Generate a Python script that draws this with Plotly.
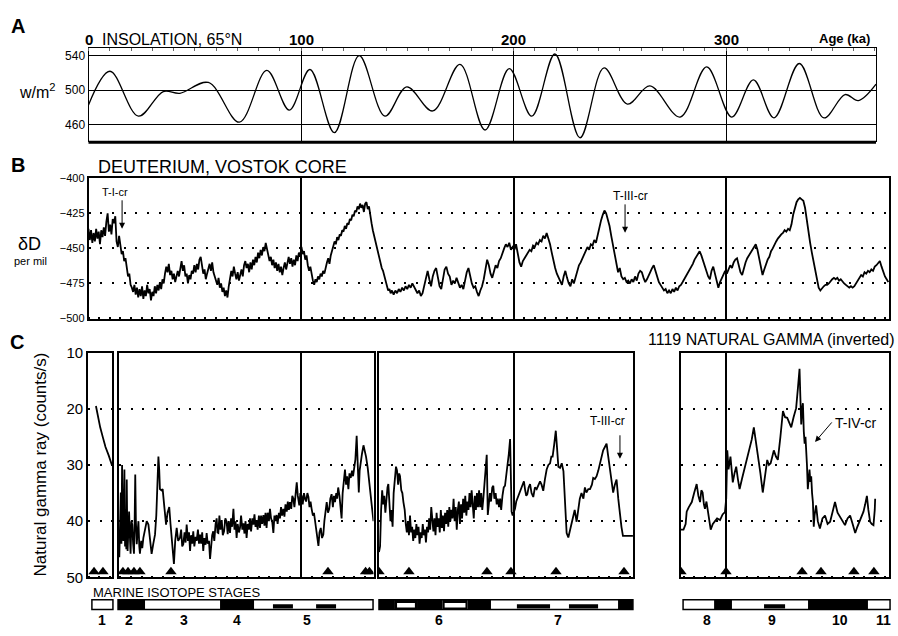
import plotly.graph_objects as go

W, H = 898, 636

# ---------------- DATA ----------------
# Panel A: insolation 65N (age ka, W/m2) - extrema
ins_age = [0, 10.1, 23.5, 35.2, 43, 56.4, 71, 83.9, 94.5, 104.2, 115.7, 127.4, 139.5, 149.8, 162,
           174.8, 186.6, 198, 208.6, 219.5, 231.3, 242.6, 253.6, 264.2, 278.4, 290.9, 302.7, 312.9,
           322.6, 334.5, 346.1, 356, 362.3, 370.6]
ins_val = [483, 522, 470, 498.5, 496.5, 509, 463, 523, 477, 524, 451, 540, 470, 504, 476,
           530, 454, 525, 470, 542, 445, 526, 484, 505, 469, 527, 469, 512,
           468, 531, 468, 495, 488, 507]

# Panel B: Vostok deuterium (age ka, per mil)
dd_pts = [
    (0, -436), (0.6, -444), (1.2, -437), (1.8, -446), (2.4, -439), (3.0, -445), (3.6, -436), (4.2, -443),
    (4.8, -438), (5.4, -447), (6.0, -437), (6.6, -442), (7.2, -435), (7.8, -441), (8.4, -431), (9.0, -425),
    (9.6, -438), (10.2, -433), (10.8, -440), (11.4, -429), (12.0, -432),
    (12.6, -427), (13.2, -445), (13.8, -449), (14.4, -441), (15.0, -450), (15.6, -454), (16.2, -452),
    (16.8, -459), (17.4, -457), (18.0, -465), (18.6, -470), (19.2, -468), (19.8, -476), (20.4, -478),
    (21.0, -481), (21.6, -476), (22.2, -483), (22.8, -478), (23.4, -485), (24.0, -479), (24.6, -484),
    (25.2, -477), (25.8, -486), (26.4, -480), (27.0, -484), (27.6, -476), (28.2, -482), (28.8, -479),
    (29.4, -487), (30.0, -481), (30.6, -484), (31.2, -477), (31.8, -482), (32.4, -476), (33.0, -480),
    (33.6, -474), (34.2, -479), (34.8, -472),
    (35.4, -475), (36.0, -468), (36.6, -463), (37.2, -467), (37.8, -461), (38.4, -469), (39.0, -466),
    (39.6, -472), (40.2, -468), (40.8, -474), (41.4, -469), (42.0, -466), (42.6, -470), (43.2, -463),
    (43.8, -459), (44.4, -466), (45.0, -462), (45.6, -470), (46.2, -468), (46.8, -475), (47.4, -469),
    (48.0, -472), (48.6, -466), (49.2, -468), (49.8, -462), (50.4, -467), (51.0, -461), (51.6, -465),
    (52.2, -458), (52.8, -456), (53.4, -463), (54.0, -468), (54.6, -465), (55.2, -472), (55.8, -468),
    (56.4, -465), (57.0, -461), (57.6, -466), (58.2, -460), (58.8, -467), (59.4, -470), (60.0, -473),
    (60.6, -476), (61.2, -471), (61.8, -478), (62.4, -475), (63.0, -481), (63.6, -478), (64.2, -484),
    (64.8, -480), (65.4, -485), (66.0, -477), (66.6, -472), (67.2, -466), (67.8, -470), (68.4, -463),
    (69.0, -468), (69.6, -472), (70.2, -467), (70.8, -473), (71.4, -469), (72.0, -465), (72.6, -470),
    (73.2, -462), (73.8, -459), (74.4, -464),
    (75.0, -461), (75.6, -467), (76.2, -460), (76.8, -465), (77.4, -458), (78.0, -462), (78.6, -456),
    (79.2, -460), (79.8, -453), (80.4, -457), (81.0, -451), (81.6, -455), (82.2, -449), (82.8, -452),
    (83.4, -446), (84.0, -450), (84.6, -455), (85.2, -459), (85.8, -456), (86.4, -462), (87.0, -458),
    (87.6, -464), (88.2, -460), (88.8, -466), (89.4, -461), (90.0, -467), (90.6, -463), (91.2, -469),
    (91.8, -464), (92.4, -460), (93.0, -465), (93.6, -459), (94.2, -456), (94.8, -461), (95.4, -457),
    (96.0, -463), (96.6, -458), (97.2, -462), (97.8, -455), (98.4, -459), (99.0, -453), (99.6, -456),
    (100.2, -449),
    (100.8, -454), (101.4, -452), (102.0, -458), (102.6, -455), (103.2, -462), (103.8, -466), (104.4, -463),
    (105.0, -469), (105.6, -473), (106.2, -476), (106.8, -472), (107.4, -474), (108.0, -470), (108.6, -472),
    (109.2, -468), (109.8, -470), (110.4, -466), (111.0, -468), (111.6, -463), (112.2, -460),
    (112.8, -457), (113.4, -461), (114.0, -455), (114.6, -451), (115.2, -448), (115.8, -445), (116.4, -447),
    (117.0, -442), (117.6, -444), (118.2, -440), (118.8, -441), (119.4, -437), (120.0, -438), (120.6, -434),
    (121.2, -436), (121.8, -432), (122.4, -433), (123.0, -429), (123.6, -430), (124.2, -426), (124.8, -427),
    (125.4, -423), (126.0, -424), (126.6, -420), (127.2, -422), (127.8, -418), (128.4, -421), (129.0, -419),
    (129.6, -424), (130.2, -418), (130.8, -417), (131.4, -422), (132.0, -420), (132.6, -428),
    (133.2, -432), (133.8, -437), (134.4, -441), (135.0, -445), (135.6, -448), (136.2, -454), (136.8, -457),
    (137.4, -461), (138.0, -464), (138.6, -466), (139.2, -470), (139.8, -473), (140.4, -477), (141.0, -480),
    (141.6, -479), (142.2, -482), (142.8, -480),
    (143.6, -483), (144.4, -480), (145.2, -482), (146.0, -479), (146.8, -481), (147.6, -478), (148.4, -480),
    (149.2, -477), (150.0, -479), (150.8, -476), (151.6, -478), (152.4, -475), (153.2, -477), (154.0, -479),
    (154.8, -482), (155.6, -480), (156.4, -484), (157.2, -482), (158.0, -477), (158.8, -470), (159.6, -466),
    (160.4, -472), (161.2, -477), (162.0, -470), (162.8, -466), (163.6, -464), (164.4, -471), (165.2, -477),
    (166.0, -479), (166.8, -470), (167.6, -465), (168.4, -463), (169.2, -468), (170.0, -470),
    (170.8, -476), (171.6, -473), (172.4, -475), (173.2, -471), (174.0, -474), (174.8, -478), (175.6, -476),
    (176.4, -479), (177.2, -473), (178.0, -467), (178.8, -464), (179.6, -470), (180.4, -475), (181.2, -478),
    (182.0, -477), (182.8, -481), (183.6, -484), (184.4, -480), (185.2, -477), (186.0, -472), (186.8, -466),
    (187.6, -458), (188.4, -462), (189.2, -468), (190.0, -471), (190.8, -466), (191.6, -462), (192.4, -464),
    (193.2, -459), (194.0, -457), (194.8, -453), (195.6, -450), (196.4, -447), (197.2, -449), (198.0, -446),
    (198.8, -451), (199.6, -449),
    (200.4, -451), (201.2, -447), (202.0, -453), (202.8, -460), (203.6, -463), (204.4, -459), (205.2, -457),
    (206.0, -455), (206.8, -453), (207.6, -451), (208.4, -452), (209.2, -448), (210.0, -449), (210.8, -446),
    (211.6, -447), (212.4, -444), (213.2, -445), (214.0, -441), (214.8, -443), (215.6, -439), (216.4, -443),
    (217.2, -447), (218.0, -453), (218.8, -459), (219.6, -464), (220.4, -468), (221.2, -471), (222.0, -474),
    (222.8, -476),
    (223.6, -470), (224.4, -466), (225.2, -471), (226.0, -475), (226.8, -477), (227.6, -472), (228.4, -475),
    (229.2, -470), (230.0, -467), (230.8, -462), (231.6, -460), (232.4, -457), (233.2, -455), (234.0, -452),
    (234.8, -449), (235.6, -451), (236.4, -447), (237.2, -448), (238.0, -444), (238.8, -446), (239.6, -440),
    (240.4, -436), (241.2, -430), (242.0, -426), (242.8, -423), (243.6, -425), (244.4, -429), (245.2, -434),
    (246.0, -441), (246.8, -448), (247.6, -456), (248.4, -462), (249.2, -467), (250.0, -464), (250.8, -470),
    (251.6, -472), (252.4, -471), (253.2, -474), (254.0, -473), (254.8, -475), (255.6, -472), (256.4, -474),
    (257.2, -470), (258.0, -473), (258.8, -468), (259.6, -466), (260.4, -467), (261.2, -471), (262.0, -474),
    (262.8, -472), (263.6, -469), (264.4, -466), (265.2, -464), (266.0, -462), (266.8, -466), (267.6, -470),
    (268.4, -474), (269.2, -476), (270.0, -478), (270.8, -480), (271.6, -479), (272.4, -482), (273.2, -480),
    (274.0, -482), (274.8, -479), (275.6, -481), (276.4, -478), (277.2, -480), (278.0, -477), (278.8, -476),
    (279.6, -474), (280.4, -472), (281.2, -470), (282.0, -468), (282.8, -466), (283.6, -463), (284.4, -461),
    (285.2, -458), (286.0, -456), (286.8, -454), (287.6, -452), (288.4, -455), (289.2, -459), (290.0, -462),
    (290.8, -467), (291.6, -470), (292.4, -472), (293.2, -466), (294.0, -463), (294.8, -468), (295.6, -474),
    (296.4, -478), (297.2, -474), (298.0, -471), (298.8, -469), (299.6, -466),
    (300.4, -468), (301.2, -465), (302.0, -462), (302.8, -464), (303.6, -460), (304.4, -458), (305.2, -457),
    (306.0, -462), (306.8, -467), (307.6, -469), (308.4, -464), (309.2, -460), (310.0, -457), (310.8, -455),
    (311.6, -454), (312.4, -452), (313.2, -450), (314.0, -447), (314.8, -451), (315.6, -458), (316.4, -463),
    (317.2, -469), (318.0, -465), (318.8, -461), (319.6, -458), (320.4, -456), (321.2, -452), (322.0, -450),
    (322.8, -447), (323.6, -445), (324.4, -443), (325.2, -441), (326.0, -440), (326.8, -439), (327.6, -437),
    (328.4, -438), (329.2, -436), (330.0, -437),
    (330.8, -433), (331.6, -426), (332.4, -421), (333.2, -417), (334.0, -415), (334.8, -414), (335.6, -415),
    (336.4, -416), (337.2, -421), (338.0, -430), (338.8, -438), (339.6, -446), (340.4, -453), (341.2, -460),
    (342.0, -466), (342.8, -472), (343.6, -478), (344.4, -480), (345.2, -478), (346.0, -477), (346.8, -476),
    (347.6, -476), (348.4, -475), (349.2, -473), (350.0, -472), (350.8, -471), (351.6, -472), (352.4, -471),
    (353.2, -473), (354.0, -472), (354.8, -474), (355.6, -475), (356.4, -476), (357.2, -477), (358.0, -478),
    (358.8, -477), (359.6, -478), (360.4, -477), (361.2, -475), (362.0, -472), (362.8, -470), (363.6, -469),
    (364.4, -470), (365.2, -467), (366.0, -468), (366.8, -466), (367.6, -467), (368.4, -465), (369.2, -466),
    (370.0, -463), (370.8, -462), (371.6, -460), (372.4, -459), (373.2, -463), (374.0, -467), (374.8, -470),
    (375.6, -472), (376.4, -474),
]

# Panel C: 1119 natural gamma (inverted), four depth segments (age-equivalent position, counts/s)
g1_pts = [(3.5, 19.5), (4.5, 21.5), (5.5, 23.3), (6.7, 25.0), (8.0, 26.8), (9.5, 28.3), (11.0, 30.0)]
g2_pts = [
    (14.5, 46.4), (14.9, 38.0), (15.2, 34.9), (15.5, 44.0), (15.8, 30.0), (16.1, 41.5), (16.4, 43.5),
    (16.7, 36.0), (16.9, 30.8), (17.2, 44.5), (17.5, 40.6), (17.8, 45.0), (18.0, 32.6), (18.2, 40.0),
    (18.4, 45.3), (18.8, 41.0), (19.1, 38.3), (19.5, 43.0), (19.8, 45.8), (20.2, 40.0), (20.6, 40.6),
    (21.0, 44.0), (21.4, 45.8), (21.7, 40.5), (22.0, 31.7), (22.3, 40.0), (22.7, 44.1), (23.1, 42.0),
    (23.5, 40.0), (23.9, 44.5), (24.2, 45.8), (24.8, 43.5), (25.3, 44.8), (25.8, 43.0),
    (26.6, 41.5), (27.4, 40.0), (28.2, 40.6), (29.0, 43.5), (29.7, 45.8), (30.5, 44.0), (31.3, 42.4),
    (31.9, 39.0), (32.4, 33.0), (32.9, 28.5), (33.3, 31.0), (33.6, 34.3), (34.3, 34.5), (34.9, 34.3),
    (35.7, 37.5), (36.5, 40.6), (37.2, 38.5), (38.0, 37.5), (38.6, 40.5), (39.1, 43.0), (39.7, 45.0),
    (40.2, 47.6), (40.8, 43.5), (41.5, 41.2),
    (42.2, 43.5), (43.0, 43.0), (43.6, 41.5), (44.1, 44.5), (44.6, 44.1), (45.2, 42.0), (45.7, 43.8),
    (46.2, 40.6), (46.8, 43.5), (47.3, 42.0), (47.8, 45.3), (48.3, 42.5), (48.8, 44.0), (49.3, 41.8),
    (49.8, 44.5), (50.4, 42.8), (50.9, 43.5), (51.5, 41.5), (52.0, 44.0), (52.5, 42.4), (53.0, 44.0),
    (53.5, 42.0), (54.0, 45.3), (54.5, 43.0), (55.1, 44.2), (55.6, 42.1), (56.1, 44.0), (56.7, 43.5),
    (57.2, 46.7), (57.7, 44.0), (58.2, 42.5), (58.7, 41.8), (59.2, 43.5), (59.8, 40.5), (60.3, 39.5),
    (60.7, 42.0), (61.1, 42.1), (61.6, 39.0), (62.1, 41.5), (62.7, 39.8), (63.2, 42.5), (63.8, 41.8),
    (64.4, 39.5), (65.0, 40.1), (65.5, 42.3), (66.0, 40.0), (66.6, 42.1), (67.1, 39.5), (67.6, 41.0),
    (68.2, 37.8), (68.7, 41.5), (69.2, 40.0), (69.7, 43.0), (70.2, 40.5), (70.8, 42.0), (71.3, 41.2),
    (71.8, 39.0), (72.4, 41.5), (72.9, 40.4), (73.4, 42.2), (73.9, 40.0), (74.4, 43.0), (74.9, 40.5),
    (75.5, 41.5), (76.0, 39.5), (76.5, 41.8), (77.1, 39.5), (77.6, 40.6), (78.1, 38.8), (78.6, 41.0),
    (79.1, 39.8), (79.6, 41.5), (80.2, 39.0), (80.7, 41.2), (81.2, 39.0), (81.7, 40.5), (82.3, 38.9),
    (82.8, 40.8), (83.3, 38.5), (83.8, 41.2), (84.3, 38.5), (84.9, 40.0), (85.4, 37.8), (85.9, 39.5),
    (86.5, 40.2), (87.0, 42.1), (87.5, 39.0), (88.0, 40.0), (88.5, 38.9), (89.0, 40.5), (89.6, 38.5),
    (90.1, 39.5), (90.6, 37.5), (91.1, 39.0), (91.7, 37.8), (92.2, 39.2), (92.7, 37.0), (93.3, 38.3),
    (93.8, 36.5), (94.3, 38.0), (94.8, 36.6), (95.4, 37.8), (95.9, 35.5), (96.4, 36.0), (96.9, 37.5),
    (97.5, 35.0), (98.0, 33.1), (98.5, 35.5), (99.2, 37.2), (99.7, 35.0),
    (100.3, 35.5), (100.8, 37.0), (101.4, 35.0), (101.9, 36.0), (102.4, 36.5), (103.0, 35.0), (103.5, 35.7),
    (104.0, 37.5), (104.5, 36.5), (105.0, 37.8), (105.6, 39.0), (106.1, 38.5), (106.6, 40.1), (107.1, 41.5),
    (107.7, 42.5), (108.2, 44.4), (108.7, 42.0), (109.3, 41.2), (109.9, 43.0), (110.5, 42.4), (111.0, 40.0),
    (111.5, 38.0), (112.1, 36.6), (112.7, 38.5), (113.3, 37.8), (113.8, 36.0), (114.4, 35.2), (115.0, 37.5),
    (115.5, 35.5), (116.0, 36.6), (116.6, 35.0), (117.0, 36.0), (117.5, 34.0), (118.1, 35.5), (118.6, 37.0),
    (119.1, 39.5), (119.6, 35.0), (120.1, 33.0), (120.7, 30.8), (121.2, 33.5), (121.7, 32.0), (122.3, 34.3),
    (122.8, 31.5), (123.4, 32.3), (124.0, 31.0), (124.5, 32.0), (125.0, 30.8), (125.6, 29.0), (126.2, 24.8),
    (126.7, 30.0), (127.2, 34.9), (127.6, 31.0), (128.1, 29.1), (128.7, 28.0), (129.4, 26.5), (130.0, 27.5),
    (130.6, 28.5), (131.4, 30.5), (132.2, 33.7), (133.0, 36.5), (133.7, 38.3), (134.1, 40.0),
]
g3_pts = [
    (136.7, 45.5), (137.2, 44.5), (137.7, 38.0), (138.2, 34.5), (138.7, 37.0), (139.2, 35.5), (139.7, 38.5),
    (140.2, 36.0), (140.7, 34.0), (141.1, 33.4), (141.6, 36.5), (142.1, 40.0), (142.6, 38.0), (143.1, 41.0),
    (143.6, 35.0), (144.1, 32.0), (144.7, 30.3), (145.2, 31.0), (145.7, 33.5), (146.2, 31.5), (146.6, 32.0),
    (147.2, 34.5), (147.7, 35.0), (148.2, 36.6), (148.8, 38.0), (149.3, 40.5), (149.8, 42.0), (150.3, 40.0),
    (150.8, 42.5), (151.3, 39.0), (151.8, 42.0), (152.3, 41.0), (152.8, 43.5), (153.3, 41.5), (153.8, 43.0),
    (154.3, 40.5), (154.8, 42.5), (155.3, 41.0), (155.8, 44.0), (156.3, 42.0), (156.8, 43.0), (157.3, 40.5),
    (157.8, 42.5), (158.3, 41.5), (158.8, 43.8), (159.3, 41.0), (159.8, 42.0), (160.3, 39.5), (160.8, 41.5),
    (161.3, 37.5), (161.8, 40.5), (162.3, 41.8), (162.8, 39.5), (163.3, 42.5), (163.8, 38.5), (164.3, 41.0),
    (164.8, 39.5), (165.3, 42.0), (165.8, 38.0), (166.3, 41.2), (166.8, 39.0), (167.3, 41.8), (167.8, 38.5),
    (168.3, 40.5), (168.8, 38.0), (169.3, 41.0), (169.8, 37.5), (170.3, 40.0), (170.8, 38.0), (171.3, 39.5),
    (171.8, 36.0), (172.3, 40.0), (172.8, 37.5), (173.3, 41.5), (173.8, 38.0), (174.3, 36.5), (174.8, 40.5),
    (175.3, 37.0), (175.8, 39.5), (176.3, 36.0), (176.8, 38.5), (177.3, 35.5), (177.8, 39.0), (178.3, 36.5),
    (178.8, 38.0), (179.3, 35.0), (179.8, 37.5), (180.3, 34.5), (180.8, 37.0), (181.3, 39.5), (181.8, 35.5),
    (182.3, 38.0), (182.8, 35.0), (183.3, 37.5), (183.8, 34.5), (184.3, 37.5), (184.8, 35.0), (185.3, 38.0),
    (185.8, 36.0), (186.3, 34.0), (186.8, 31.0), (187.4, 28.2), (187.9, 38.9), (188.4, 36.0), (188.9, 35.0),
    (189.4, 36.5), (190.0, 34.0), (190.5, 33.7), (191.0, 36.0), (191.6, 35.0), (192.1, 37.0), (192.6, 36.0),
    (193.2, 37.5), (193.7, 36.0), (194.2, 38.0), (194.8, 35.5), (195.4, 34.0), (196.0, 33.7), (196.6, 32.0),
    (197.2, 30.5), (197.8, 28.0), (198.4, 25.4), (198.8, 33.0), (199.1, 38.3), (199.6, 39.0),
    (200.2, 38.5), (200.7, 37.8), (201.3, 36.5), (201.8, 36.0), (202.4, 35.5), (203.0, 34.9), (203.6, 34.0),
    (204.2, 33.5), (204.9, 32.9), (205.5, 34.5), (206.0, 35.5), (206.5, 35.2), (207.1, 34.0), (207.8, 33.4),
    (208.5, 35.0), (209.3, 35.7), (210.1, 34.0), (210.9, 34.3), (211.7, 33.5), (212.5, 32.9), (213.2, 33.5),
    (214.0, 34.6), (214.8, 32.5), (215.6, 30.8), (216.4, 30.0), (217.2, 29.7), (217.8, 28.5), (218.4, 28.5),
    (219.1, 26.5), (219.9, 23.9), (220.5, 27.0), (221.1, 30.3), (221.9, 30.5), (222.7, 29.7), (223.5, 31.1),
    (224.3, 36.5), (225.0, 42.1), (225.8, 42.9), (226.6, 41.5), (227.2, 40.5), (228.0, 39.5), (228.8, 38.0),
    (229.7, 40.1), (230.5, 37.5), (231.2, 36.0), (232.0, 35.0), (232.9, 36.0), (233.6, 34.0), (234.3, 34.9),
    (235.2, 34.3), (236.0, 34.3), (236.9, 33.5), (237.5, 32.3), (238.3, 32.5), (239.1, 32.0), (239.9, 31.0),
    (240.7, 29.7), (241.5, 28.5), (242.2, 27.4), (243.0, 26.8), (243.8, 26.2), (244.4, 28.0), (245.0, 29.7),
    (245.9, 33.0), (246.9, 34.9), (247.7, 33.5), (248.5, 32.6), (249.3, 36.0), (250.0, 38.9), (250.8, 41.0),
    (251.5, 42.6), (253.3, 42.6), (256.2, 42.6),
]
g4_pts = [
    (278.8, 41.5), (280.0, 41.5), (281.0, 40.5), (281.5, 38.3), (282.5, 37.5), (283.9, 36.6), (285.0, 35.0),
    (286.2, 33.4), (287.0, 35.5), (287.8, 36.6), (288.4, 34.5), (289.0, 34.9), (289.6, 37.0), (290.1, 37.8),
    (290.8, 36.5), (291.5, 38.5), (292.2, 40.5), (292.8, 41.5), (293.8, 40.5), (294.8, 40.0), (295.8, 39.5),
    (297.2, 39.8), (298.4, 38.8), (299.5, 38.4), (300.1, 36.0), (300.6, 27.4), (301.2, 30.8), (302.1, 28.5),
    (302.7, 31.5), (303.2, 33.1), (304.0, 31.5), (304.8, 30.3), (305.6, 32.5), (306.4, 34.3), (307.5, 32.5),
    (308.7, 30.8), (309.9, 29.0), (311.1, 27.4), (312.1, 25.5), (313.1, 23.3), (314.0, 25.5), (315.0, 28.5),
    (316.2, 31.5), (317.3, 34.9), (318.4, 32.0), (319.4, 29.1), (320.2, 30.0), (321.0, 29.7), (321.8, 28.5),
    (322.5, 27.4), (323.5, 28.5), (324.4, 29.1), (325.6, 25.0), (326.8, 20.4), (327.8, 21.5), (328.8, 21.6),
    (329.8, 22.5), (330.7, 23.3), (331.8, 21.5), (333.0, 19.9), (333.8, 16.5), (334.6, 12.9), (335.0, 18.0),
    (335.4, 22.8), (335.8, 20.0), (336.2, 19.0), (336.6, 24.0), (337.0, 26.2), (337.4, 25.0), (337.7, 26.8),
    (338.1, 30.0), (338.5, 34.3), (338.9, 32.0), (339.3, 30.8), (339.7, 33.0), (340.1, 32.0), (340.5, 35.0),
    (340.9, 36.6), (341.3, 41.0), (341.7, 38.9), (342.4, 37.2), (343.2, 40.0), (344.2, 41.3), (345.4, 39.5),
    (346.6, 39.0), (347.8, 40.5), (349.0, 40.1), (350.2, 38.0), (351.3, 36.6), (352.5, 38.5), (353.7, 39.3),
    (354.8, 40.0), (356.0, 40.7), (357.2, 39.5), (358.4, 39.0), (359.6, 40.5), (360.8, 42.1), (361.8, 41.0),
    (362.8, 40.1), (363.8, 39.0), (364.7, 38.3), (365.5, 37.0), (366.3, 35.5), (367.0, 38.0), (367.8, 40.1),
    (368.6, 40.5), (369.4, 40.7), (370.0, 38.0), (370.2, 36.0),
]

# triangles (age-equivalent positions) per segment
tri1 = [2.6, 6.8]
tri2 = [16.2, 18.6, 21.4, 24.2, 38.8, 112.7, 130.4, 132.2]
tri3 = [136.7, 150.8, 187.5, 198.8, 220.0, 252.0]
tri4 = [278.8, 300.0, 335.8, 344.7, 360.2, 369.6]
tri_level = 49.0

# marine isotope stage bar
mis_box_start = [1.6, 13.9, 136.7, 279.8]
mis_box_end = [11.5, 133.9, 256.2, 377.2]
mis_full_start = [13.9, 61.9, 136.7, 154.6, 178.4, 249.2, 294.4, 338.6, 144.2, 166.6]
mis_full_end = [26.6, 77.9, 144.2, 166.6, 189.4, 256.2, 302.8, 366.8, 154.6, 178.4]
mis_half_start = [86.8, 107.1, 201.6, 226.1, 317.9]
mis_half_end = [96.2, 116.5, 217.2, 239.8, 327.8]
mis_inset_start = [145.2, 167.6]
mis_inset_end = [153.6, 177.4]
mis_labels = ['1', '2', '3', '4', '5', '6', '7', '8', '9', '10', '11']
mis_label_pos = [6.4, 19.1, 44.9, 69.9, 102.8, 164.9, 221.0, 291.0, 321.6, 353.6, 373.9]

age_ticks = [0, 100, 200, 300]
ins_ticks = [460, 500, 540]
dd_ticks = [-500, -475, -450, -425, -400]
gam_ticks = [10, 20, 30, 40, 50]

# ---------------- LAYOUT HELPERS ----------------
KA = 2.125   # px per ka
X0 = 88.5    # px of age 0
FONT = 'Liberation Sans, Arial, Helvetica, sans-serif'
DOT = '2px,9.7px'


def xd(a, b):
    return [a / W, b / W]


def yd(top, bottom):
    return [1 - bottom / H, 1 - top / H]


def xr(a, b):
    return [(a - X0) / KA, (b - X0) / KA]


fig = go.Figure()

# Panel A
fig.add_trace(go.Scatter(x=ins_age, y=ins_val, mode='lines', xaxis='x', yaxis='y',
                         line=dict(color='black', width=1.3, shape='spline', smoothing=1.0)))
# Panel B
fig.add_trace(go.Scatter(x=[p[0] for p in dd_pts], y=[p[1] for p in dd_pts], mode='lines',
                         xaxis='x2', yaxis='y2', line=dict(color='black', width=1.8)))
# Panel C
for i, (pts, tri) in enumerate([(g1_pts, tri1), (g2_pts, tri2), (g3_pts, tri3), (g4_pts, tri4)]):
    xa, ya = 'x%d' % (i + 3), 'y%d' % (i + 3)
    fig.add_trace(go.Scatter(x=[p[0] for p in pts], y=[p[1] for p in pts], mode='lines',
                             xaxis=xa, yaxis=ya, line=dict(color='black', width=1.8)))
    fig.add_trace(go.Scatter(x=tri, y=[tri_level] * len(tri), mode='markers', xaxis=xa, yaxis=ya,
                             marker=dict(symbol='triangle-up', size=10, color='black')))

# MIS bar
fig.add_trace(go.Bar(orientation='h', base=mis_box_start,
                     x=[e - s for s, e in zip(mis_box_start, mis_box_end)],
                     y=[0.5] * len(mis_box_start), width=1, xaxis='x7', yaxis='y7',
                     marker=dict(color='white', line=dict(color='black', width=1.5))))
fig.add_trace(go.Bar(orientation='h', base=mis_full_start,
                     x=[e - s for s, e in zip(mis_full_start, mis_full_end)],
                     y=[0.5] * len(mis_full_start), width=1, xaxis='x7', yaxis='y7',
                     marker=dict(color='black', line=dict(width=0))))
fig.add_trace(go.Bar(orientation='h', base=mis_half_start,
                     x=[e - s for s, e in zip(mis_half_start, mis_half_end)],
                     y=[0.325] * len(mis_half_start), width=0.45, xaxis='x7', yaxis='y7',
                     marker=dict(color='black', line=dict(width=0))))
fig.add_trace(go.Bar(orientation='h', base=mis_inset_start,
                     x=[e - s for s, e in zip(mis_inset_start, mis_inset_end)],
                     y=[0.435] * len(mis_inset_start), width=0.47, xaxis='x7', yaxis='y7',
                     marker=dict(color='white', line=dict(width=0))))

layout = dict(
    width=W, height=H, margin=dict(l=0, r=0, t=0, b=0, pad=0),
    paper_bgcolor='white', plot_bgcolor='white', showlegend=False, barmode='overlay',
    font=dict(family=FONT, color='black'),
)

# Panel A axes
layout['xaxis'] = dict(domain=xd(X0, 876), range=xr(X0, 876), anchor='y', side='top',
                       showline=True, linecolor='black', linewidth=1, mirror=False,
                       tickmode='array', tickvals=age_ticks, showticklabels=False, ticks='',
                       showgrid=True, gridcolor='black', gridwidth=1, zeroline=False,
                       minor=dict(ticks='inside', tick0=0, dtick=10, ticklen=3, tickwidth=1,
                                  tickcolor='#666', showgrid=False))
layout['yaxis'] = dict(domain=yd(40, 137), range=[439.7, 549.0], anchor='x',
                       showline=True, linecolor='black', linewidth=1, mirror=True,
                       tickmode='array', tickvals=ins_ticks, ticks='',
                       showgrid=True, gridcolor='black', gridwidth=1, zeroline=False,
                       tickfont=dict(size=12, family=FONT, color='black'))
# Panel B axes
layout['xaxis2'] = dict(domain=xd(X0, 889), range=xr(X0, 889), anchor='y2',
                        showline=True, linecolor='black', linewidth=1.6, mirror=True,
                        tickmode='array', tickvals=age_ticks[1:], showticklabels=False, ticks='',
                        showgrid=True, gridcolor='black', gridwidth=1.6, zeroline=False,
                        minor=dict(ticks='inside', tick0=0, dtick=5, ticklen=2, tickwidth=1.5,
                                   tickcolor='black', showgrid=False))
layout['yaxis2'] = dict(domain=yd(174, 318), range=[-500, -400], anchor='x2',
                        showline=True, linecolor='black', linewidth=1.6, mirror=True,
                        tickmode='array', tickvals=dd_ticks, ticks='',
                        showgrid=True, gridcolor='black', gridwidth=1.5, griddash=DOT, zeroline=False,
                        tickfont=dict(size=11, family=FONT, color='black'))
# Panel C axes (four boxes)
boxes = [(88, 112, []), (119, 373.5, [100]), (379, 633, [200]), (681, 889, [300])]
for i, (a, b, tv) in enumerate(boxes):
    n = i + 3
    layout['xaxis%d' % n] = dict(domain=xd(a, b), range=xr(a, b), anchor='y%d' % n,
                                 showline=True, linecolor='black', linewidth=1.6, mirror=True,
                                 tickmode='array', tickvals=tv, showticklabels=False, ticks='',
                                 showgrid=True, gridcolor='black', gridwidth=1.6, zeroline=False,
                                 minor=dict(ticks='inside', tick0=0, dtick=5, ticklen=2, tickwidth=1.5,
                                            tickcolor='black', showgrid=False))
    layout['yaxis%d' % n] = dict(domain=yd(353, 584), range=[50, 10], anchor='x%d' % n,
                                 showline=True, linecolor='black', linewidth=1.6, mirror=True,
                                 tickmode='array', tickvals=gam_ticks, ticks='',
                                 showticklabels=(i == 0),
                                 showgrid=True, gridcolor='black', gridwidth=1.5, griddash=DOT,
                                 zeroline=False, tickfont=dict(size=15, family=FONT, color='black'))
# MIS bar axes
layout['xaxis7'] = dict(domain=[0, 1], range=xr(0, W), anchor='y7', visible=False)
layout['yaxis7'] = dict(domain=yd(603, 621), range=[-0.4, 1.4], anchor='x7', visible=False)

fig.update_layout(**layout)

# thick bottom rule of panel A
fig.add_shape(type='line', xref='x domain', yref='y domain', x0=0, x1=1, y0=0, y1=0,
              line=dict(color='black', width=3))


def text(xp, yp, s, size, xanchor='center', bold=False, angle=0):
    fig.add_annotation(x=xp / W, y=1 - yp / H, xref='paper', yref='paper', text=('<b>%s</b>' % s) if bold else s,
                       showarrow=False, xanchor=xanchor, yanchor='middle', textangle=angle,
                       font=dict(size=size, family=FONT, color='black'))


# age labels on top of panel A
for t in age_ticks:
    fig.add_annotation(x=t, y=1 - 31 / H, xref='x', yref='paper', text='<b>%d</b>' % t, showarrow=False,
                       xanchor='center', yanchor='middle', font=dict(size=15, family=FONT, color='black'))

text(18, 17, 'A', 20, bold=True)
text(100, 31, 'INSOLATION, 65°N', 16, xanchor='left')
text(844, 30, 'Age (ka)', 13, bold=True)
text(37, 84, 'w/m<sup>2</sup>', 16)

text(18, 160, 'B', 20, bold=True)
text(96, 162, 'DEUTERIUM, VOSTOK CORE', 18, xanchor='left')
text(29, 241, 'δD', 18)
text(31, 259, 'per mil', 11)
text(115, 188, 'T-I-cr', 11)
text(630, 192, 'T-III-cr', 12)

text(17, 342, 'C', 20, bold=True)
text(897, 340, '1119 NATURAL GAMMA (inverted)', 16, xanchor='right')
text(40, 468, 'Natural gamma ray (counts/s)', 17, angle=-90)
text(607, 423, 'T-III-cr', 12)
text(856, 425, 'T-IV-cr', 14)
text(91, 600, 'MARINE ISOTOPE STAGES', 13, xanchor='left')

for lab, pos in zip(mis_labels, mis_label_pos):
    fig.add_annotation(x=pos, y=1 - 628 / H, xref='x7', yref='paper', text='<b>%s</b>' % lab,
                       showarrow=False, xanchor='center', yanchor='middle',
                       font=dict(size=14, family=FONT, color='black'))

# arrows
arrows = [
    dict(x=15.8, y=-436.0, xref='x2', yref='y2', ax=0, ay=-30),
    dict(x=252.5, y=-438.9, xref='x2', yref='y2', ax=0, ay=-30),
    dict(x=250.1, y=28.9, xref='x5', yref='y5', ax=0, ay=-25),
    dict(x=341.9, y=25.9, xref='x6', yref='y6', ax=18, ay=-21),
]
for a in arrows:
    fig.add_annotation(text='', showarrow=True, arrowhead=2, arrowsize=1.2, arrowwidth=1,
                       arrowcolor='black', standoff=0, **a)

fig.write_html('out.html')
